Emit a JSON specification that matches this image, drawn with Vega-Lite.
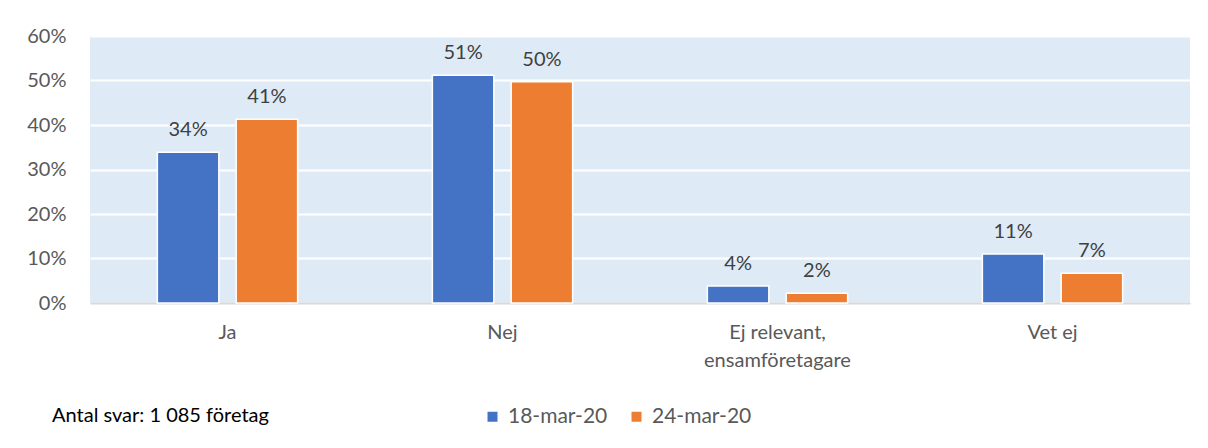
{
  "$schema": "https://vega.github.io/schema/vega-lite/v6.json",
  "width": 1100,
  "height": 267,
  "autosize": "none",
  "padding": {"left": 90, "top": 36, "right": 18, "bottom": 145},
  "background": "white",
  "config": {
    "font": "Lato",
    "view": {"fill": "#DEEBF7", "stroke": null}
  },
  "data": {
    "values": [
      {"svar": "Ja", "datum": "18-mar-20", "andel": 0.339},
      {"svar": "Ja", "datum": "24-mar-20", "andel": 0.413},
      {"svar": "Nej", "datum": "18-mar-20", "andel": 0.512},
      {"svar": "Nej", "datum": "24-mar-20", "andel": 0.497},
      {"svar": "Ej relevant, ensamföretagare", "datum": "18-mar-20", "andel": 0.038},
      {"svar": "Ej relevant, ensamföretagare", "datum": "24-mar-20", "andel": 0.022},
      {"svar": "Vet ej", "datum": "18-mar-20", "andel": 0.11},
      {"svar": "Vet ej", "datum": "24-mar-20", "andel": 0.067}
    ]
  },
  "encoding": {
    "x": {
      "field": "svar",
      "type": "nominal",
      "sort": null,
      "scale": {"paddingInner": 0.49, "paddingOuter": 0.245},
      "axis": {
        "title": null,
        "labelAngle": 0,
        "labelFontSize": 20,
        "labelColor": "#595959",
        "labelPadding": 19,
        "labelLineHeight": 28,
        "labelExpr": "datum.value == 'Ej relevant, ensamföretagare' ? ['Ej relevant,', 'ensamföretagare'] : datum.label",
        "ticks": false,
        "domainColor": "#D9D9D9",
        "domainWidth": 2,
        "grid": false
      }
    },
    "xOffset": {
      "field": "datum",
      "type": "nominal",
      "scale": {"paddingInner": 0.22, "paddingOuter": 0}
    },
    "y": {
      "field": "andel",
      "type": "quantitative",
      "scale": {"domain": [0, 0.6], "nice": false},
      "axis": {
        "title": null,
        "format": ".0%",
        "values": [0, 0.1, 0.2, 0.3, 0.4, 0.5, 0.6],
        "labelFontSize": 20,
        "labelColor": "#595959",
        "labelPadding": 24,
        "ticks": false,
        "domain": false,
        "gridColor": "white",
        "gridWidth": 2
      }
    },
    "color": {
      "field": "datum",
      "type": "nominal",
      "scale": {"range": ["#4472C4", "#ED7D31"]},
      "legend": {
        "orient": "none",
        "legendX": -38,
        "legendY": 370,
        "direction": "horizontal",
        "title": "Antal svar: 1 085 företag",
        "titleOrient": "left",
        "titleFontSize": 20,
        "titleFontWeight": "normal",
        "titleColor": "black",
        "titleLimit": 500,
        "titlePadding": 213,
        "titleBaseline": "middle",
        "titleAnchor": "middle",
        "symbolType": "square",
        "symbolSize": 100,
        "symbolStrokeWidth": 0,
        "labelFontSize": 21,
        "labelColor": "#595959",
        "labelOffset": 5,
        "columnPadding": 18
      }
    }
  },
  "layer": [
    {
      "mark": {"type": "bar", "stroke": "white", "strokeWidth": 1.5}
    },
    {
      "mark": {"type": "text", "baseline": "bottom", "dy": -12, "fontSize": 20},
      "encoding": {
        "text": {"field": "andel", "type": "quantitative", "format": ".0%"},
        "color": {"value": "#404040"}
      }
    }
  ]
}
